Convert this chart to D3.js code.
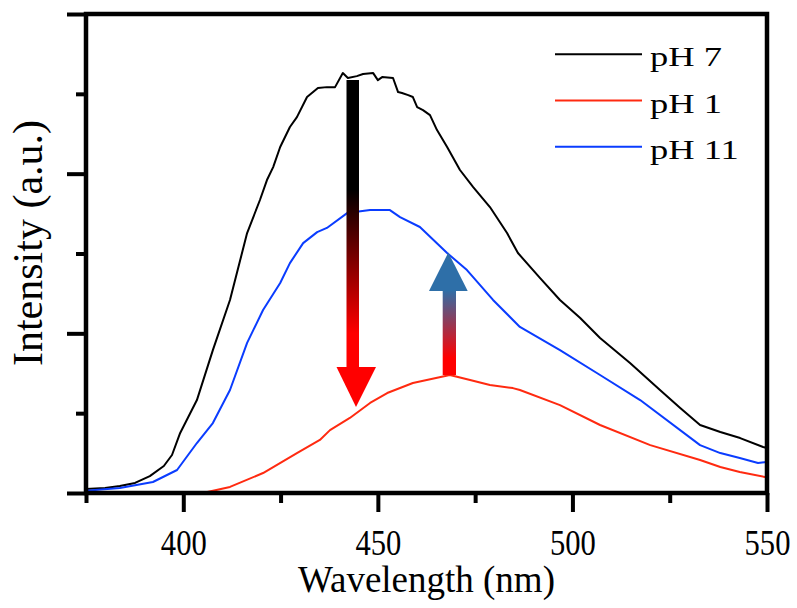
<!DOCTYPE html>
<html>
<head>
<meta charset="utf-8">
<script src="https://cdn.jsdelivr.net/npm/d3@7"></script>
<style>
  body { margin: 0; background: #fff; }
  text { font-family: "Liberation Serif", "Times New Roman", serif; fill: #000; }
</style>
</head>
<body>
<svg id="chart" width="797" height="608"></svg>
<script>
// pH 7 spectrum (black)
var wlPH7 = [375, 379.9, 383.7, 387.6, 391.4, 395, 397.1, 399.2, 403.5, 407.6, 412, 416.4, 419.7, 421.5, 423.1,
  424.9, 427.4, 429.2, 431.8, 434.6, 436.9, 439, 441, 442.3, 444.6, 446.2, 448.8, 450, 451.1, 453.9, 455.2,
  456.2, 457.8, 459, 460.1, 461.6, 463.4, 465.2, 467.8, 471.1, 474.5, 478.8, 483.2, 486, 491.7, 496.8, 502,
  507.1, 514.8, 522.5, 527.7, 532.8, 538, 543.1, 549, 550];
var intPH7 = [2.5, 3.1, 4.4, 6.3, 10.6, 16.9, 23.8, 37.6, 58.2, 89.5, 120.9, 162.8, 183.5, 196, 204.1,
  216.7, 229.2, 235.4, 248, 253.6, 254.2, 254.2, 263, 259.9, 261.1, 262.4, 263, 258.6, 260.5, 259.9, 251.1,
  250.5, 249.2, 248, 241.7, 239.8, 236.7, 227.3, 216.7, 202.3, 191.6, 179.1, 162.8, 150.3, 134.6, 120.9, 109.6,
  97.1, 81.4, 64.5, 53.2, 42.6, 38.2, 34.4, 28.8, 28.2];

// pH 1 spectrum (red)
var wlPH1 = [405, 412, 420.5, 429.2, 435.1, 437.7, 442.8, 448, 452.4, 459, 468.5, 473.7, 478.8, 484.7, 486.5,
  496.8, 507.1, 520, 532.8, 538, 543, 549.5, 550];
var intPH1 = [0, 3.8, 12.5, 25, 33.2, 39.4, 47, 56.4, 62.6, 68.9, 73.9, 70.8, 67.6, 65.7, 64.5,
  55, 42.6, 30, 20.7, 16.3, 13.1, 10, 9.6];

// pH 11 spectrum (blue)
var wlPH11 = [375, 383.7, 392.2, 398.4, 403.5, 407.6, 412, 416.4, 420.5, 424.9, 427.4, 430.8, 434.4, 436.9,
  442.1, 448, 453.1, 455.7, 460.8, 467.8, 472.9, 479.6, 486.5, 496.8, 507.1, 517.4, 532.8, 538, 543, 547.7, 550];
var intPH11 = [1.4, 3.1, 6.9, 14.4, 31.3, 43.8, 64.5, 94, 114.6, 131.5, 144, 156.5, 163.4, 166,
  175.3, 177.2, 177.2, 172.8, 166.6, 150.3, 139.6, 120.9, 104, 89.5, 73.9, 58.2, 30, 25, 21.9, 18.8, 19.4];

var seriesNames = ['pH 7', 'pH 1', 'pH 11'];
var seriesColors = ['#000000', '#ff2a10', '#0a3cff'];
var xMajorTicks = [400, 450, 500, 550];
var xMinorTicks = [375, 425, 475, 525];
var yMajorTicks = [0, 100, 200, 300];
var yMinorTicks = [50, 150, 250];

var svg = d3.select('#chart');
var plotLeft = 86, plotRight = 767, plotTop = 14, plotBottom = 493;

var x = d3.scaleLinear().domain([375, 550]).range([plotLeft, plotRight]);
var y = d3.scaleLinear().domain([0, 300]).range([plotBottom, plotTop]);

var series = [
  {name: seriesNames[0], color: seriesColors[0], wl: wlPH7, val: intPH7},
  {name: seriesNames[1], color: seriesColors[1], wl: wlPH1, val: intPH1},
  {name: seriesNames[2], color: seriesColors[2], wl: wlPH11, val: intPH11}
];

var line = d3.line()
  .x(function(d) {return x(d[0]);})
  .y(function(d) {return y(d[1]);});

// Spectra.
svg.append('g').selectAll('path').data(series).enter()
  .append('path')
  .attr('fill', 'none')
  .attr('stroke', function(s) {return s.color;})
  .attr('stroke-width', 2)
  .attr('stroke-linejoin', 'round')
  .attr('d', function(s) {return line(s.wl.map(function(w, i) {return [w, s.val[i]];}));});

// Gradients for the two arrows.
var defs = svg.append('defs');
var gDown = defs.append('linearGradient').attr('id', 'gradDown')
  .attr('x1', 0).attr('y1', 0).attr('x2', 0).attr('y2', 1);
gDown.append('stop').attr('offset', '0').attr('stop-color', '#000');
gDown.append('stop').attr('offset', '0.38').attr('stop-color', '#000');
gDown.append('stop').attr('offset', '0.88').attr('stop-color', '#ff0000');
gDown.append('stop').attr('offset', '1').attr('stop-color', '#ff0000');
var gUp = defs.append('linearGradient').attr('id', 'gradUp')
  .attr('x1', 0).attr('y1', 0).attr('x2', 0).attr('y2', 1);
gUp.append('stop').attr('offset', '0').attr('stop-color', '#2e6fa8');
gUp.append('stop').attr('offset', '0.8').attr('stop-color', '#ff0000');
gUp.append('stop').attr('offset', '1').attr('stop-color', '#ff0000');

// Down arrow: pH 7 -> pH 1.
svg.append('rect')
  .attr('x', 346.5).attr('y', 80).attr('width', 12.5).attr('height', 288)
  .attr('fill', 'url(#gradDown)');
svg.append('path')
  .attr('d', 'M336.5,367 L376,367 L356,407 Z')
  .attr('fill', '#ff0000');

// Up arrow: pH 1 -> pH 11.
svg.append('rect')
  .attr('x', 442.7).attr('y', 290).attr('width', 13.3).attr('height', 85)
  .attr('fill', 'url(#gradUp)');
svg.append('path')
  .attr('d', 'M429,291 L467.7,291 L448.3,252.5 Z')
  .attr('fill', '#2e6fa8');

// Axes.
var axisG = svg.append('g');
function styleAxis(g) {
  g.select('.domain').remove();
  g.selectAll('.tick line').attr('stroke', '#000').attr('stroke-width', 4);
  // Tick numbers in the original are narrow and tall.
  g.selectAll('.tick text')
    .style('font-family', '"Liberation Serif", serif')
    .style('font-size', '36px')
    .attr('transform', 'scale(0.85,1)');
}
axisG.append('g').attr('transform', 'translate(0,' + plotBottom + ')')
  .call(d3.axisBottom(x).tickValues(xMajorTicks).tickSize(19).tickPadding(17).tickFormat(d3.format('d')))
  .call(styleAxis);
axisG.append('g').attr('transform', 'translate(0,' + plotBottom + ')')
  .call(d3.axisBottom(x).tickValues(xMinorTicks).tickSize(10).tickFormat(''))
  .call(styleAxis);
axisG.append('g').attr('transform', 'translate(' + plotLeft + ',0)')
  .call(d3.axisLeft(y).tickValues(yMajorTicks).tickSize(19).tickFormat(''))
  .call(styleAxis);
axisG.append('g').attr('transform', 'translate(' + plotLeft + ',0)')
  .call(d3.axisLeft(y).tickValues(yMinorTicks).tickSize(10).tickFormat(''))
  .call(styleAxis);

// Frame.
svg.append('rect')
  .attr('x', plotLeft).attr('y', plotTop)
  .attr('width', plotRight - plotLeft).attr('height', plotBottom - plotTop)
  .attr('fill', 'none').attr('stroke', '#000').attr('stroke-width', 4.5);

// Axis titles.
svg.append('text')
  .attr('x', (plotLeft + plotRight) / 2).attr('y', 592)
  .attr('text-anchor', 'middle')
  .style('font-size', '37px')
  .text('Wavelength (nm)');
svg.append('text')
  .attr('transform', 'translate(42,243) rotate(-90)')
  .attr('text-anchor', 'middle')
  .style('font-size', '42px')
  .text('Intensity (a.u.)');

// Legend.
var legend = svg.append('g').selectAll('g').data(series).enter().append('g')
  .attr('transform', function(d, i) {return 'translate(0,' + (54.3 + i * 46.2) + ')';});
legend.append('line')
  .attr('x1', 555).attr('x2', 642).attr('y1', 0).attr('y2', 0)
  .attr('stroke', function(d) {return d.color;})
  .attr('stroke-width', 2);
legend.append('text')
  .attr('transform', 'translate(650,12) scale(1.35,1)')
  .style('font-size', '27px')
  .text(function(d) {return d.name;});
</script>
</body>
</html>
